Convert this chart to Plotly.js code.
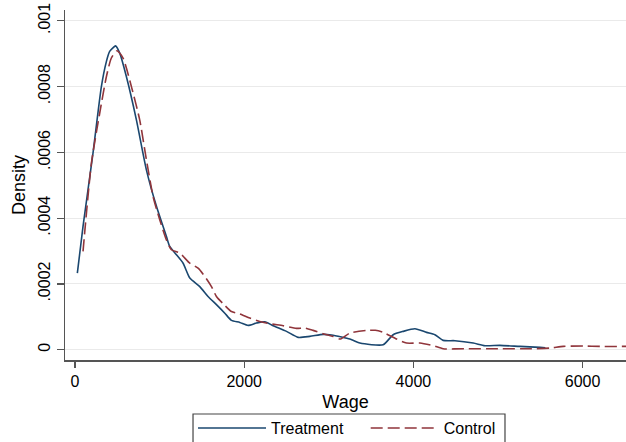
<!DOCTYPE html>
<html>
<head>
<meta charset="utf-8">
<script src="https://cdn.plot.ly/plotly-3.0.1.min.js"></script>
<style>html,body{margin:0;padding:0;background:#fff;}#chart{width:626px;height:442px;}</style>
</head>
<body>
<div id="chart"></div>
<script>
const treatWage = [28, 95, 213, 312, 371, 410, 450, 478, 529, 608, 726, 844, 963, 1081, 1120, 1199, 1278, 1357, 1475, 1573, 1672, 1771, 1849, 1948, 2046, 2145, 2244, 2342, 2500, 2638, 2776, 2933, 3032, 3151, 3249, 3367, 3643, 3761, 3879, 4018, 4156, 4254, 4352, 4491, 4707, 4846, 5023, 5260, 5497, 5560];
const treatDensity = [0.000233, 0.000375, 0.000598, 0.000800, 0.000876, 0.000907, 0.000918, 0.000924, 0.000902, 0.000830, 0.000699, 0.000547, 0.000436, 0.000344, 0.000314, 0.000289, 0.000263, 0.000218, 0.000192, 0.000162, 0.000137, 0.000111, 0.0000891, 0.000083, 0.0000739, 0.0000811, 0.0000851, 0.000073, 0.0000557, 0.0000375, 0.0000405, 0.0000466, 0.0000446, 0.0000385, 0.0000324, 0.0000203, 0.0000152, 0.0000456, 0.0000557, 0.0000638, 0.0000527, 0.0000456, 0.0000284, 0.0000274, 0.0000203, 0.0000122, 0.0000132, 0.00001, 0.000007, 0.000006];

const controlWage = [95, 194, 292, 371, 430, 497, 568, 667, 765, 844, 923, 1002, 1081, 1140, 1238, 1357, 1455, 1534, 1613, 1672, 1751, 1849, 1948, 2066, 2184, 2303, 2460, 2618, 2717, 2815, 2933, 3052, 3139, 3249, 3446, 3550, 3643, 3801, 3919, 4077, 4234, 4352, 4600, 5000, 5400, 5614, 5772, 6008, 6206, 6500, 6700];
const controlDensity = [0.000299, 0.000567, 0.000719, 0.000830, 0.000887, 0.000909, 0.000887, 0.000800, 0.000699, 0.000578, 0.000466, 0.000395, 0.000334, 0.000304, 0.000294, 0.000263, 0.000248, 0.000223, 0.000192, 0.000162, 0.000140, 0.000116, 0.000109, 0.0000963, 0.000086, 0.000079, 0.000073, 0.0000648, 0.000066, 0.0000588, 0.0000486, 0.0000405, 0.0000324, 0.0000507, 0.0000588, 0.000059, 0.0000527, 0.0000324, 0.0000203, 0.0000203, 0.0000122, 0.000003, 0.000003, 0.000003, 0.000003, 0.000005, 0.00001, 0.0000112, 0.00001, 0.00001, 0.00001];

const xTicks = [0, 2000, 4000, 6000];
const xTickLabels = ["0", "2000", "4000", "6000"];
const yTicks = [0, 0.0002, 0.0004, 0.0006, 0.0008, 0.001];
const yTickLabels = ["0", ".0002", ".0004", ".0006", ".0008", ".001"];

const FONT = "Liberation Sans, Arial, Helvetica, sans-serif";

const traces = [
  {x: treatWage, y: treatDensity, type: 'scatter', mode: 'lines', name: 'Treatment', legend: 'legend',
   line: {color: '#1a476f', width: 1.6, shape: 'spline', smoothing: 0.6}},
  {x: controlWage, y: controlDensity, type: 'scatter', mode: 'lines', name: 'Control', legend: 'legend2',
   line: {color: '#90353b', width: 1.6, dash: '12px,5px', shape: 'spline', smoothing: 0.6}}
];

const legendCommon = {
  orientation: 'h', xanchor: 'left', yanchor: 'top', y: -0.146,
  borderwidth: 0, bgcolor: 'rgba(0,0,0,0)',
  font: {size: 16, family: FONT, color: '#000'},
  itemwidth: 68
};

const layout = {
  width: 626, height: 442,
  margin: {l: 65, r: 0, t: 10, b: 82, autoexpand: false},
  paper_bgcolor: '#ffffff', plot_bgcolor: '#ffffff',
  font: {family: FONT, size: 16, color: '#000'},
  showlegend: true,
  xaxis: {
    range: [-118, 6513],
    tickvals: xTicks, ticktext: xTickLabels,
    showgrid: false, zeroline: false,
    showline: true, linecolor: '#555', linewidth: 1.5,
    ticks: 'outside', ticklen: 6, tickcolor: '#555', tickwidth: 1.2,
    tickfont: {size: 16, family: FONT, color: '#000'},
    title: {text: 'Wage', font: {size: 18, family: FONT, color: '#000'}, standoff: 6}
  },
  yaxis: {
    range: [-0.0000313, 0.001033],
    tickvals: yTicks, ticktext: yTickLabels, tickangle: -90,
    showgrid: true, gridcolor: '#eaeaea', gridwidth: 1,
    zeroline: false,
    showline: true, linecolor: '#555', linewidth: 1.5,
    ticks: 'outside', ticklen: 7, tickcolor: '#555', tickwidth: 1.2,
    tickfont: {size: 16, family: FONT, color: '#000'},
    title: {text: 'Density', font: {size: 18, family: FONT, color: '#000'}, standoff: 6}
  },
  legend: Object.assign({}, legendCommon, {x: 0.2282}),
  legend2: Object.assign({}, legendCommon, {x: 0.536}),
  shapes: [
    {type: 'rect', xref: 'paper', yref: 'paper', x0: 0.2282, x1: 0.7843, y0: -0.1543, y1: -0.26,
     line: {color: '#444', width: 1.2}, fillcolor: 'rgba(0,0,0,0)', layer: 'below'}
  ]
};

Plotly.newPlot('chart', traces, layout, {displayModeBar: false, staticPlot: true});
</script>
</body>
</html>
